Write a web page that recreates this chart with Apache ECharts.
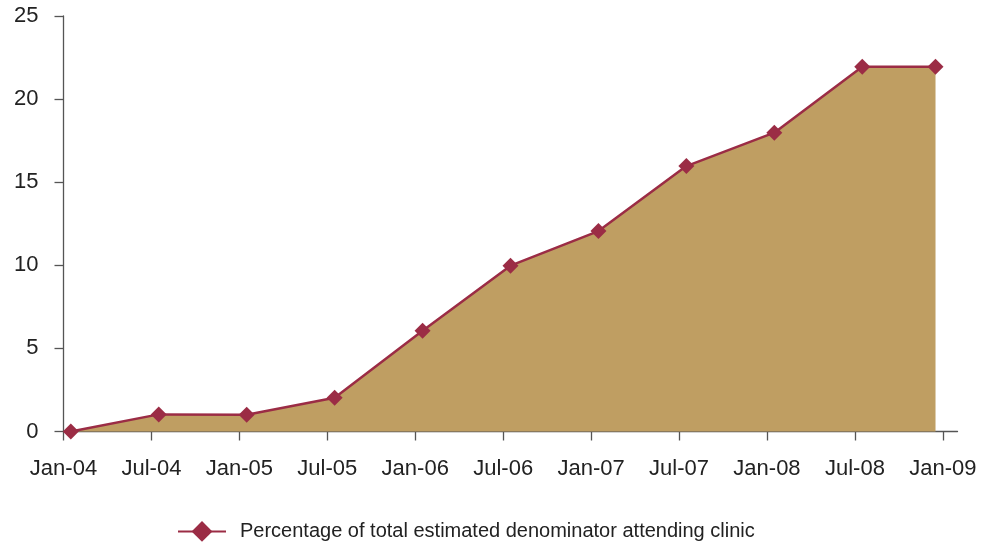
<!DOCTYPE html>
<html>
<head>
<meta charset="utf-8">
<script src="https://cdn.jsdelivr.net/npm/echarts@6/dist/echarts.min.js"></script>
<style>html,body{margin:0;padding:0;background:#fff}#c{width:987px;height:544px}</style>
</head>
<body>
<div id="c"></div>
<script>
// Observation dates (year-month) and values
const dates = ['2004-01','2004-07','2005-01','2005-07','2006-01','2006-07','2007-01','2007-07','2008-01','2008-07','2008-12'];
const values = [0, 1.03, 1.01, 2.03, 6.06, 9.98, 12.06, 15.97, 17.98, 21.95, 21.94];
const tickLabels = ['Jan-04','Jul-04','Jan-05','Jul-05','Jan-06','Jul-06','Jan-07','Jul-07','Jan-08','Jul-08','Jan-09'];
const yTicks = [0, 5, 10, 15, 20, 25];
const seriesName = 'Percentage of total estimated denominator attending clinic';

// month index from Jan-2004; points centred in their month (date-axis style)
function monthIndex(s){ const [y,m] = s.split('-').map(Number); return (y-2004)*12 + (m-1); }
const points = dates.map((d,i) => [monthIndex(d) + 0.5, values[i]]);
const tickPositions = tickLabels.map((_, i) => i*6);

const chart = echarts.init(document.getElementById('c'));
const font = 'Liberation Sans, Arial, sans-serif';
chart.setOption({
  animation: false,
  grid: { left: 63.5, top: 16, width: 894, height: 415.5, containLabel: false },
  xAxis: {
    type: 'value', min: 0, max: 61,
    axisLine: { show: true, lineStyle: { color: '#555', width: 1.3 } },
    axisTick: { show: true, length: 9, lineStyle: { color: '#555', width: 1.3 }, customValues: tickPositions },
    axisLabel: { customValues: tickPositions, margin: 26, fontSize: 22, color: '#222', fontFamily: font,
      formatter: v => tickLabels[Math.round(v/6)] || '' },
    splitLine: { show: false }
  },
  yAxis: {
    type: 'value', min: 0, max: 25, interval: 5,
    axisLine: { show: true, lineStyle: { color: '#555', width: 1.3 } },
    axisTick: { show: true, length: 9, lineStyle: { color: '#555', width: 1.3 } },
    axisLabel: { margin: 25, fontSize: 22, color: '#222', fontFamily: font, padding: [2,0,0,0],
      formatter: v => yTicks.includes(v) ? String(v) : '' },
    splitLine: { show: false }
  },
  legend: {
    show: true, left: 177, top: 521, padding: 0, itemWidth: 48, itemHeight: 26, itemGap: 10,
    textStyle: { fontSize: 20, color: '#222', fontFamily: font, padding: [0,0,0,9] },
    data: [seriesName]
  },
  series: [{
    name: seriesName, type: 'line', data: points,
    symbol: 'diamond', symbolSize: 16,
    lineStyle: { color: '#9B2C45', width: 2.5 },
    itemStyle: { color: '#9B2C45' },
    areaStyle: { color: '#BF9E62', opacity: 1 },
    z: 2
  }]
});
</script>
</body>
</html>
